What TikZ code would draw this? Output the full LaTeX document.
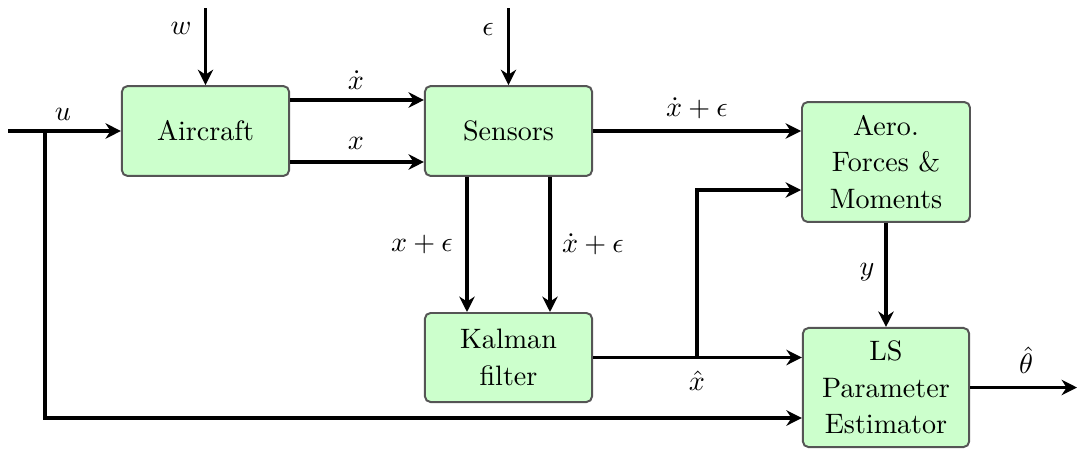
\documentclass[tikz,border=0pt]{standalone}
\usetikzlibrary{arrows.meta}
\definecolor{boxfill}{HTML}{CCFFCC}
\definecolor{boxdraw}{HTML}{555555}
\tikzset{
  blk/.style={draw=boxdraw, fill=boxfill, line width=0.7pt, rounded corners=2pt,
    align=center, font=\fontsize{10}{13}\selectfont, inner sep=0pt},
  sig/.style={line width=1.4pt, -{Stealth[length=5.5pt,width=5.5pt]}},
  wire/.style={line width=1.4pt},
  lbl/.style={inner sep=0pt, font=\fontsize{10}{12}\selectfont},
}
\begin{document}
\begin{tikzpicture}[x=0.356pt, y=-0.356pt]
\useasboundingbox (0,0) rectangle (1078,449);
% blocks
\node[blk, minimum width=59.5pt, minimum height=32pt] (air) at (205.5,131) {Aircraft};
\node[blk, minimum width=59.5pt, minimum height=32pt] (sen) at (508.5,131) {Sensors};
\node[blk, minimum width=59.8pt, minimum height=42.7pt] (aero) at (886,162) {Aero.\\Forces \&\\Moments};
\node[blk, minimum width=59.5pt, minimum height=31.7pt] (kal) at (508.5,357.5) {Kalman\\filter};
\node[blk, minimum width=59.2pt, minimum height=42.4pt] (ls) at (886,387.5) {LS\\Parameter\\Estimator};
% free ends and junctions
\coordinate (uin) at (8,131);
\coordinate (uj) at (45,131);
\coordinate (ub) at (45,418);
\coordinate (win) at (205.5,8);
\coordinate (ein) at (508.5,8);
\coordinate (kj) at (697,357.5);
\coordinate (thout) at (1077,387.5);
% connectors
\draw[sig] (uin) -- (air.west);
\draw[sig] (uj) -- (ub) -- (ls.west |- ub);
\draw[sig] (win) -- (air.north);
\draw[sig] (ein) -- (sen.north);
\draw[sig] (air.east |- 0,100) -- (sen.west |- 0,100);
\draw[sig] (air.east |- 0,162) -- (sen.west |- 0,162);
\draw[sig] (sen.east) -- (aero.west |- sen.east);
\draw[sig] (sen.south -| 467,0) -- (kal.north -| 467,0);
\draw[sig] (sen.south -| 550,0) -- (kal.north -| 550,0);
\draw[sig] (kal.east) -- (ls.west |- kal.east);
\draw[sig] (kj) |- (aero.west |- 0,190);
\draw[sig] (aero.south) -- (ls.north);
\draw[sig] (ls.east) -- (thout);
% labels
\node[lbl] (lu) at (63,114) {$u$};
\node[lbl] (lw) at (181,28) {$w$};
\node[lbl] (le) at (488,29) {$\epsilon$};
\node[lbl] (lxd) at (356,80) {$\dot{x}$};
\node[lbl] (lx) at (356,143) {$x$};
\node[lbl] (lxde) at (697,108) {$\dot{x}+\epsilon$};
\node[lbl] (lxe) at (422,244) {$x+\epsilon$};
\node[lbl] (lxde2) at (593,244) {$\dot{x}+\epsilon$};
\node[lbl] (ly) at (867,272) {$y$};
\node[lbl] (lxh) at (697,381) {$\hat{x}$};
\node[lbl] (lth) at (1026,360) {$\hat{\theta}$};
\end{tikzpicture}
\end{document}
